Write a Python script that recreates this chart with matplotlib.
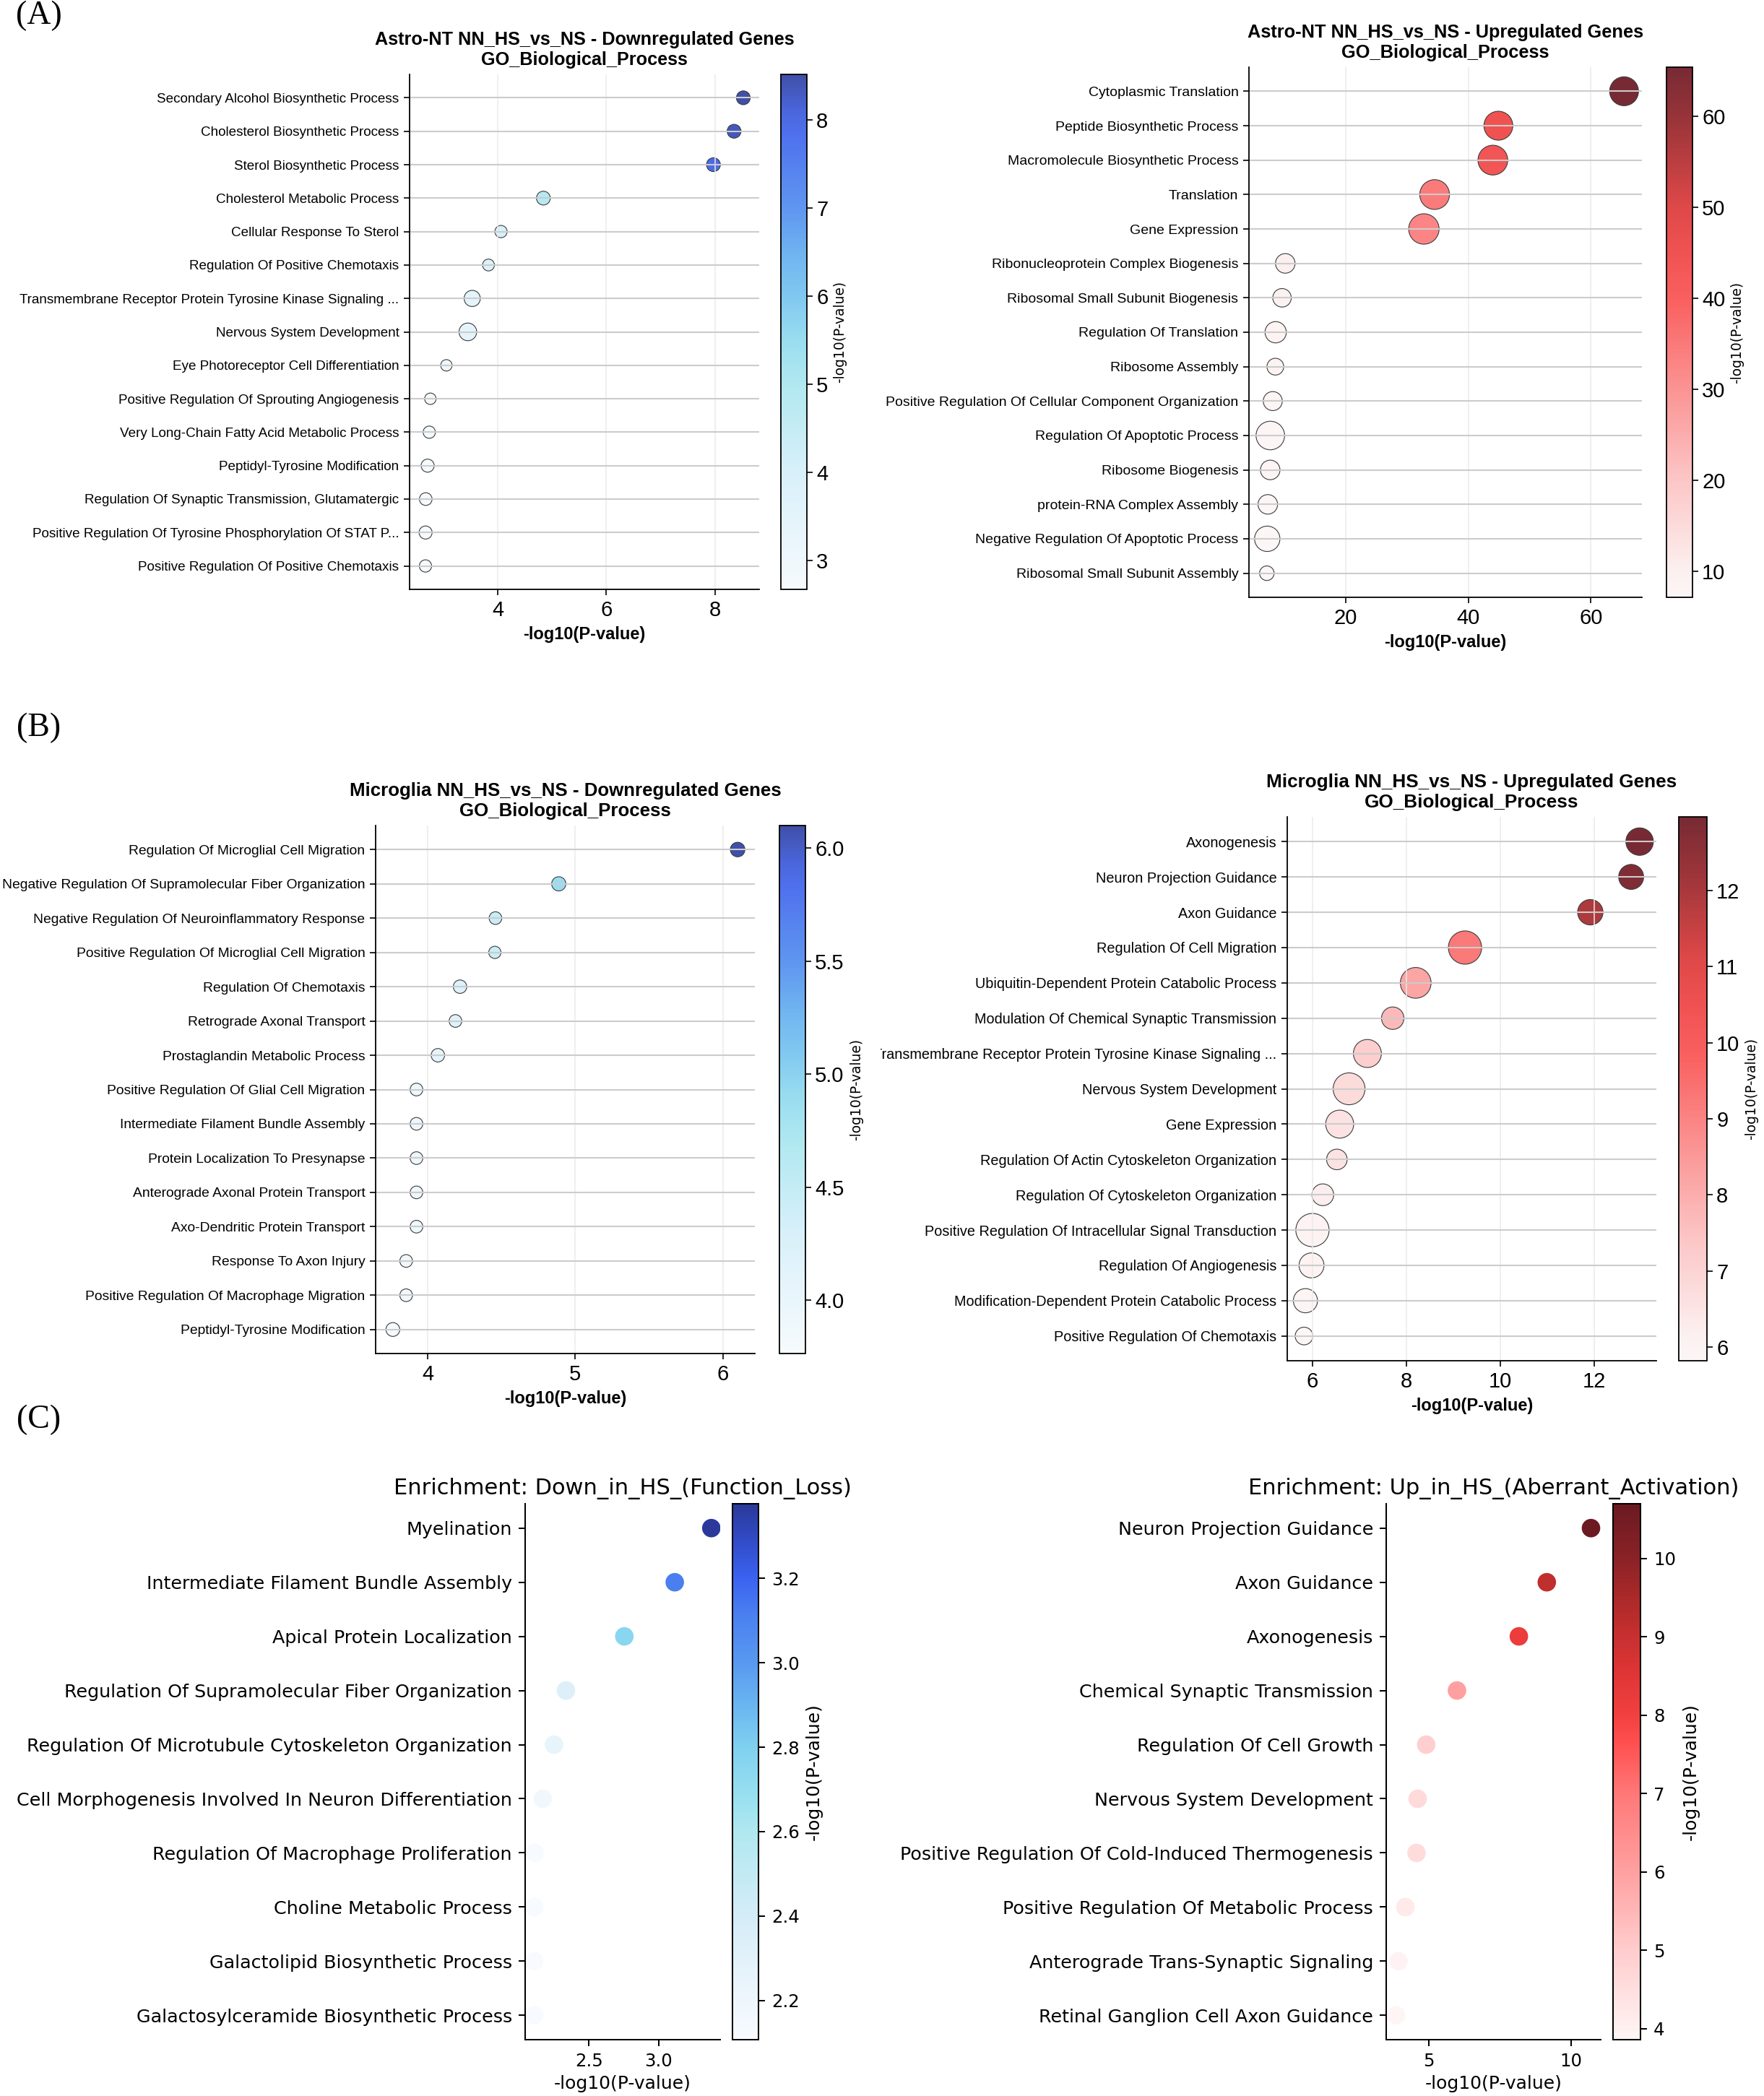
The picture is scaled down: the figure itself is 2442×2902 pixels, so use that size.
import numpy as np
import matplotlib
matplotlib.use("Agg")
import matplotlib.pyplot as plt
from matplotlib.colors import LinearSegmentedColormap
from matplotlib.transforms import Bbox, TransformedBbox

W, H = 2442, 2902
SANS = "Liberation Sans"
DJV = "DejaVu Sans"

# ---------------- data ----------------
astro_down_terms = [
    "Secondary Alcohol Biosynthetic Process", "Cholesterol Biosynthetic Process",
    "Sterol Biosynthetic Process", "Cholesterol Metabolic Process",
    "Cellular Response To Sterol", "Regulation Of Positive Chemotaxis",
    "Transmembrane Receptor Protein Tyrosine Kinase Signaling ...",
    "Nervous System Development", "Eye Photoreceptor Cell Differentiation",
    "Positive Regulation Of Sprouting Angiogenesis",
    "Very Long-Chain Fatty Acid Metabolic Process", "Peptidyl-Tyrosine Modification",
    "Regulation Of Synaptic Transmission, Glutamatergic",
    "Positive Regulation Of Tyrosine Phosphorylation Of STAT P...",
    "Positive Regulation Of Positive Chemotaxis"]
astro_down_logp = [8.52, 8.35, 7.97, 4.84, 4.06, 3.83, 3.53, 3.45, 3.055, 2.76,
                   2.74, 2.71, 2.675, 2.672, 2.67]
astro_down_count = [19, 19, 19, 19, 15, 14, 26, 31, 13, 13, 15, 17, 16, 17, 15]

astro_up_terms = [
    "Cytoplasmic Translation", "Peptide Biosynthetic Process",
    "Macromolecule Biosynthetic Process", "Translation", "Gene Expression",
    "Ribonucleoprotein Complex Biogenesis", "Ribosomal Small Subunit Biogenesis",
    "Regulation Of Translation", "Ribosome Assembly",
    "Positive Regulation Of Cellular Component Organization",
    "Regulation Of Apoptotic Process", "Ribosome Biogenesis",
    "protein-RNA Complex Assembly", "Negative Regulation Of Apoptotic Process",
    "Ribosomal Small Subunit Assembly"]
astro_up_logp = [65.4, 44.9, 44.0, 34.5, 32.75, 10.14, 9.61, 8.57, 8.52, 8.1,
                 7.7, 7.68, 7.29, 7.2, 7.13]
astro_up_count = [83, 83, 88, 88, 92, 38, 34, 45, 28, 36, 81, 38, 38, 64, 21]

micro_down_terms = [
    "Regulation Of Microglial Cell Migration",
    "Negative Regulation Of Supramolecular Fiber Organization",
    "Negative Regulation Of Neuroinflammatory Response",
    "Positive Regulation Of Microglial Cell Migration", "Regulation Of Chemotaxis",
    "Retrograde Axonal Transport", "Prostaglandin Metabolic Process",
    "Positive Regulation Of Glial Cell Migration",
    "Intermediate Filament Bundle Assembly", "Protein Localization To Presynapse",
    "Anterograde Axonal Protein Transport", "Axo-Dendritic Protein Transport",
    "Response To Axon Injury", "Positive Regulation Of Macrophage Migration",
    "Peptidyl-Tyrosine Modification"]
micro_down_logp = [6.10, 4.888, 4.459, 4.455, 4.219, 4.188, 4.069, 3.924, 3.924,
                   3.924, 3.924, 3.924, 3.854, 3.854, 3.764]
micro_down_count = [21, 20, 16, 15, 18, 16, 18, 16, 16, 16, 16, 16, 16, 16, 19]

micro_up_terms = [
    "Axonogenesis", "Neuron Projection Guidance", "Axon Guidance",
    "Regulation Of Cell Migration", "Ubiquitin-Dependent Protein Catabolic Process",
    "Modulation Of Chemical Synaptic Transmission",
    "Transmembrane Receptor Protein Tyrosine Kinase Signaling ...",
    "Nervous System Development", "Gene Expression",
    "Regulation Of Actin Cytoskeleton Organization",
    "Regulation Of Cytoskeleton Organization",
    "Positive Regulation Of Intracellular Signal Transduction",
    "Regulation Of Angiogenesis", "Modification-Dependent Protein Catabolic Process",
    "Positive Regulation Of Chemotaxis"]
micro_up_logp = [12.97, 12.79, 11.92, 9.25, 8.20, 7.71, 7.17, 6.78, 6.58, 6.52,
                 6.22, 6.00, 5.98, 5.85, 5.82]
micro_up_count = [75, 62, 64, 110, 94, 50, 78, 101, 78, 42, 47, 110, 62, 58, 31]

enr_down_terms = [
    "Myelination", "Intermediate Filament Bundle Assembly",
    "Apical Protein Localization", "Regulation Of Supramolecular Fiber Organization",
    "Regulation Of Microtubule Cytoskeleton Organization",
    "Cell Morphogenesis Involved In Neuron Differentiation",
    "Regulation Of Macrophage Proliferation", "Choline Metabolic Process",
    "Galactolipid Biosynthetic Process", "Galactosylceramide Biosynthetic Process"]
enr_down_logp = [3.377, 3.115, 2.754, 2.336, 2.25, 2.17, 2.112, 2.108, 2.107, 2.107]

enr_up_terms = [
    "Neuron Projection Guidance", "Axon Guidance", "Axonogenesis",
    "Chemical Synaptic Transmission", "Regulation Of Cell Growth",
    "Nervous System Development", "Positive Regulation Of Cold-Induced Thermogenesis",
    "Positive Regulation Of Metabolic Process", "Anterograde Trans-Synaptic Signaling",
    "Retinal Ganglion Cell Axon Guidance"]
enr_up_logp = [10.70, 9.15, 8.17, 6.00, 4.92, 4.62, 4.58, 4.19, 3.95, 3.86]

# ---------------- colormaps ----------------
blue_ab = LinearSegmentedColormap.from_list("blue_ab", [
    (0.0, "#f6fafd"), (0.23, "#d8f0fa"), (0.40, "#b0e8f0"), (0.49, "#98dcf0"),
    (0.57, "#80c8f0"), (0.65, "#70b4f0"), (0.74, "#5f96f0"), (0.88, "#4f72ee"),
    (0.93, "#4a66dc"), (1.0, "#4050a8")])
red_ab = LinearSegmentedColormap.from_list("red_ab", [
    (0.0, "#fdf6f6"), (0.05, "#fcefef"), (0.22, "#fcc6c6"), (0.39, "#fb9494"),
    (0.56, "#fa6060"), (0.65, "#f05252"), (0.74, "#de4848"), (0.9, "#9a3439"),
    (1.0, "#782a34")])
blue_c = LinearSegmentedColormap.from_list("blue_c", [
    (0.0, "#f7fbff"), (0.075, "#eef6fc"), (0.232, "#d4ecf8"), (0.389, "#b0e8f0"),
    (0.454, "#98e0f0"), (0.546, "#80d0f0"), (0.618, "#6ab8f0"), (0.706, "#5898f0"),
    (0.794, "#4a80f0"), (0.863, "#3a62f0"), (0.944, "#3048c0"), (1.0, "#2b3a9a")])
red_c = LinearSegmentedColormap.from_list("red_c", [
    (0.0, "#fff5f5"), (0.02, "#fff0f0"), (0.167, "#ffcccc"), (0.314, "#ffa0a0"),
    (0.458, "#ff7878"), (0.552, "#ff5050"), (0.605, "#f24040"), (0.683, "#e03535"),
    (0.752, "#c83030"), (0.814, "#b02a2a"), (0.899, "#8a2226"), (1.0, "#6b1a22")])

fig = plt.figure(figsize=(W / 100, H / 100), dpi=100)


def px_rect(x0, y0, x1, y1):
    return [x0 / W, 1 - y1 / H, (x1 - x0) / W, (y1 - y0) / H]


def set_family(labels, fam):
    for lab in labels:
        lab.set_family(fam)


def go_panel(box, cbox, terms, vals, counts, cmap, title, xticks, cticks,
             fs_y, fs_title, clip_x=None):
    ax = fig.add_axes(px_rect(*box))
    cax = fig.add_axes(px_rect(*cbox))
    vals = np.asarray(vals, float)
    y = np.arange(len(terms))
    sc = ax.scatter(vals, y, s=np.asarray(counts, float) * 10.0, c=vals, cmap=cmap,
                    vmin=vals.min(), vmax=vals.max(), edgecolors="#3c3c3c",
                    linewidths=0.8, zorder=1)
    ax.set_yticks(y)
    ax.set_yticklabels(terms, fontsize=fs_y, family=SANS)
    ax.invert_yaxis()
    ax.set_xticks(xticks)
    ax.tick_params(axis="both", length=5.5, width=1.2, color="black")
    ax.tick_params(axis="x", labelsize=21, pad=5)
    ax.tick_params(axis="y", pad=5)
    set_family(ax.get_xticklabels(), SANS)
    ax.xaxis.grid(True, color="#ebebeb", lw=1.1)
    ax.yaxis.grid(True, color="#cccccc", lw=1.5)
    for sp in ["top", "right"]:
        ax.spines[sp].set_visible(False)
    for sp in ["left", "bottom"]:
        ax.spines[sp].set_linewidth(1.3)
    ax.set_xlabel("-log10(P-value)", fontsize=17, fontweight="bold", family=SANS,
                  labelpad=6)
    ax.set_title(title, fontsize=fs_title, fontweight="bold", family=SANS, pad=9.5)
    cb = fig.colorbar(sc, cax=cax)
    cb.set_ticks(cticks)
    cb.ax.tick_params(labelsize=21, length=5.5, width=1.2, pad=4)
    set_family(cb.ax.get_yticklabels(), SANS)
    cb.outline.set_linewidth(1.3)
    cb.set_label("-log10(P-value)", fontsize=13.4, family=DJV, labelpad=5)
    if clip_x is not None:
        clipbox = TransformedBbox(Bbox.from_extents(clip_x / W, 0, 1, 1),
                                  fig.transFigure)
        for lab in ax.get_yticklabels():
            lab.set_clip_box(clipbox)
            lab.set_clip_on(True)
    return ax


def enr_panel(box, cbox, terms, vals, cmap, title, xticks, cticks):
    ax = fig.add_axes(px_rect(*box))
    cax = fig.add_axes(px_rect(*cbox))
    vals = np.asarray(vals, float)
    y = np.arange(len(terms))
    sc = ax.scatter(vals, y, s=340, c=vals, cmap=cmap, vmin=vals.min(),
                    vmax=vals.max(), linewidths=0)
    ax.set_yticks(y)
    ax.set_yticklabels(terms, fontsize=18.3, family=DJV)
    ax.invert_yaxis()
    ax.set_xticks(xticks)
    ax.tick_params(axis="both", length=6.6, width=1.45, color="black", pad=6.4)
    ax.tick_params(axis="x", labelsize=17.6)
    set_family(ax.get_xticklabels(), DJV)
    for sp in ["top", "right"]:
        ax.spines[sp].set_visible(False)
    for sp in ["left", "bottom"]:
        ax.spines[sp].set_linewidth(1.45)
    ax.set_xlabel("-log10(P-value)", fontsize=18, family=DJV, labelpad=5)
    ax.set_title(title, fontsize=22, family=DJV, pad=9)
    cb = fig.colorbar(sc, cax=cax)
    cb.set_ticks(cticks)
    cb.ax.tick_params(labelsize=17.6, length=6.6, width=1.45, pad=6.4)
    set_family(cb.ax.get_yticklabels(), DJV)
    cb.outline.set_linewidth(1.45)
    cb.set_label("-log10(P-value)", fontsize=18, family=DJV, labelpad=6)
    return ax


# ---------------- panel A ----------------
go_panel((567, 103, 1051, 816), (1081, 103, 1117, 816),
         astro_down_terms, astro_down_logp, astro_down_count, blue_ab,
         "Astro-NT NN_HS_vs_NS - Downregulated Genes\nGO_Biological_Process",
         [4, 6, 8], [3, 4, 5, 6, 7, 8], 13.6, 18.2)
go_panel((1729, 93, 2273, 827), (2307, 93, 2343, 827),
         astro_up_terms, astro_up_logp, astro_up_count, red_ab,
         "Astro-NT NN_HS_vs_NS - Upregulated Genes\nGO_Biological_Process",
         [20, 40, 60], [10, 20, 30, 40, 50, 60], 14.0, 18.3)

# ---------------- panel B ----------------
go_panel((520, 1143, 1045, 1874), (1079, 1143, 1115, 1874),
         micro_down_terms, micro_down_logp, micro_down_count, blue_ab,
         "Microglia NN_HS_vs_NS - Downregulated Genes\nGO_Biological_Process",
         [4, 5, 6], [4.0, 4.5, 5.0, 5.5, 6.0], 13.9, 18.6)
go_panel((1782, 1131, 2293, 1884), (2324, 1131, 2363, 1884),
         micro_up_terms, micro_up_logp, micro_up_count, red_ab,
         "Microglia NN_HS_vs_NS - Upregulated Genes\nGO_Biological_Process",
         [6, 8, 10, 12], [6, 7, 8, 9, 10, 11, 12], 14.3, 18.8, clip_x=1219)

# ---------------- panel C ----------------
enr_panel((727, 2082, 997, 2824), (1014, 2082, 1050, 2824),
          enr_down_terms, enr_down_logp, blue_c,
          "Enrichment: Down_in_HS_(Function_Loss)", [2.5, 3.0],
          [2.2, 2.4, 2.6, 2.8, 3.0, 3.2])
enr_panel((1919, 2082, 2216, 2824), (2233, 2082, 2271, 2824),
          enr_up_terms, enr_up_logp, red_c,
          "Enrichment: Up_in_HS_(Aberrant_Activation)", [5, 10],
          [4, 5, 6, 7, 8, 9, 10])

# ---------------- panel letters ----------------
for lab, yc in [("(A)", 22), ("(B)", 1008), ("(C)", 1966)]:
    fig.text(54 / W, 1 - yc / H, lab, family="Liberation Serif", fontsize=33,
             ha="center", va="center")

fig.savefig("out.png", dpi=100)
